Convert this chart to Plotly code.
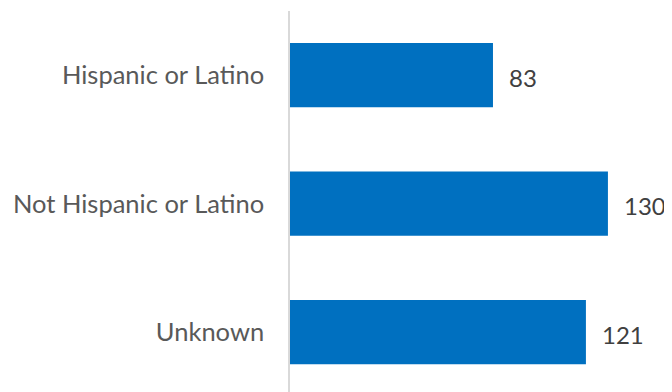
import plotly.graph_objects as go

categories = ["Hispanic or Latino", "Not Hispanic or Latino", "Unknown"]
values = [83, 130, 121]

bar_color = "#0070C0"

fig = go.Figure()
fig.add_trace(go.Bar(
    x=values, y=categories, orientation="h",
    marker=dict(color=bar_color, line=dict(width=0)),
    width=0.5,
    hoverinfo="skip",
))

for c, v in zip(categories, values):
    fig.add_annotation(x=v, y=c, text=str(v), showarrow=False,
                       xanchor="left", yanchor="middle", xshift=14, yshift=-2,
                       font=dict(family="Lato", size=24, color="#404040"))

fig.update_layout(
    width=664, height=384,
    margin=dict(l=282, r=0, t=3, b=0),
    paper_bgcolor="white", plot_bgcolor="white",
    showlegend=False,
    font=dict(family="Lato", size=25.5, color="#595959"),
    xaxis=dict(range=[0, 156.2], visible=False, fixedrange=True),
    yaxis=dict(
        range=[2.465, -0.5], showline=True, linecolor="#D9D9D9", linewidth=1.5,
        showgrid=False, zeroline=False, ticks="", ticklabelstandoff=19,
        tickfont=dict(family="Lato", size=25.5, color="#595959"),
        automargin=False,
    ),
)

fig.write_html("out.html")
